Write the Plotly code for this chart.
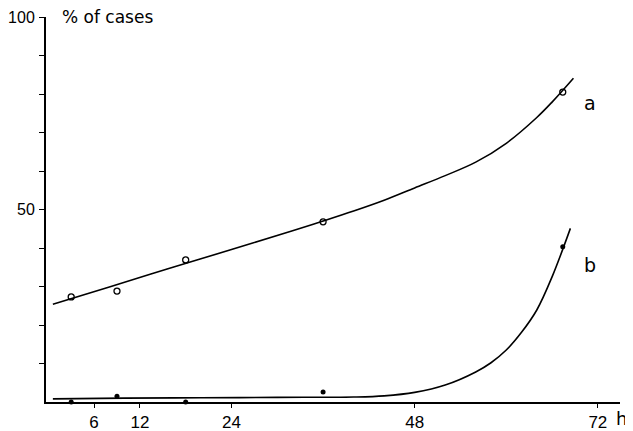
import plotly.graph_objects as go

# Fitted curves
curve_a_x = [0.6, 8, 16, 24, 32, 36, 40, 44, 48, 52, 56, 60, 64, 66, 68.8]
curve_a_y = [25.4, 29.9, 34.8, 39.6, 44.5, 47.0, 49.6, 52.4, 55.6, 58.8, 62.3, 67.2, 73.9, 77.9, 84.1]
curve_b_x = [0.6, 10, 20, 30, 40, 44, 48, 52, 56, 58, 60, 62, 64, 66, 68.4]
curve_b_y = [0.8, 1.0, 1.1, 1.2, 1.3, 1.6, 2.5, 4.4, 7.8, 10.2, 13.5, 18.1, 23.9, 32.5, 45.1]

# Observed points
obs_x = [3, 9, 18, 36, 67.4]
obs_a = [27.3, 28.8, 36.9, 46.8, 80.5]
obs_b = [0, 1.5, 0, 2.6, 40.3]

x_ticks = [6, 12, 24, 48, 72]
y_ticks = [50, 100]
y_minor = [10, 20, 30, 40, 60, 70, 80, 90]

NUM_FONT = "Liberation Sans"
TXT_FONT = "DejaVu Sans"

# page body has an 8px margin; the figure is sized/placed to compensate
fig = go.Figure()
for cx, cy in [(curve_a_x, curve_a_y), (curve_b_x, curve_b_y)]:
    fig.add_trace(go.Scatter(x=cx, y=cy, mode="lines",
                             line=dict(color="black", width=1.6, shape="spline", smoothing=1.0),
                             showlegend=False, hoverinfo="skip"))
fig.add_trace(go.Scatter(x=obs_x, y=obs_a, mode="markers",
                         marker=dict(symbol="circle-open", size=6, color="black", line=dict(width=1.3)),
                         showlegend=False, cliponaxis=False))
fig.add_trace(go.Scatter(x=obs_x, y=obs_b, mode="markers",
                         marker=dict(symbol="circle", size=5, color="black"),
                         showlegend=False, cliponaxis=False))

fig.add_annotation(x=71.0, y=77.7, xref="x", yref="y", text="a", showarrow=False,
                   font=dict(family=TXT_FONT, size=19, color="black"))
fig.add_annotation(x=71.0, y=35.6, xref="x", yref="y", text="b", showarrow=False,
                   font=dict(family=TXT_FONT, size=19, color="black"))
fig.add_annotation(x=(60 - 46) / 574, y=(402 - 17) / 385, xref="paper", yref="paper", text="% of cases",
                   showarrow=False, xanchor="left", yanchor="middle",
                   font=dict(family=TXT_FONT, size=17, color="black"))
fig.add_annotation(x=(621 - 46) / 574, y=-(418 - 402) / 385, xref="paper", yref="paper", text="h",
                   showarrow=False, xanchor="center", yanchor="middle",
                   font=dict(family=TXT_FONT, size=18, color="black"))

fig.update_layout(
    width=625, height=423,
    margin=dict(l=38, r=13, t=9, b=29, autoexpand=False),
    plot_bgcolor="white", paper_bgcolor="white",
    font=dict(family=NUM_FONT, size=17, color="black"),
    xaxis=dict(range=[-0.3, 74.9], tickvals=x_ticks, ticktext=[str(v) for v in x_ticks],
               showline=True, linecolor="black", linewidth=2, ticks="outside", ticklen=4,
               tickwidth=1.3, tickcolor="black", showgrid=False, zeroline=False, automargin=False,
               ticklabeloverflow="allow"),
    yaxis=dict(range=[0, 100], tickvals=y_ticks, ticktext=[str(v) for v in y_ticks],
               tickfont=dict(family=NUM_FONT, size=16, color="black"),
               showline=True, linecolor="black", linewidth=2, ticks="outside", ticklen=5,
               tickwidth=1.3, tickcolor="black", showgrid=False, zeroline=False, automargin=False,
               ticklabelstandoff=1, ticklabeloverflow="allow",
               minor=dict(tickvals=y_minor, ticks="outside", ticklen=5,
                          tickwidth=1.3, tickcolor="black", showgrid=False)),
)

fig.write_html("out.html")
